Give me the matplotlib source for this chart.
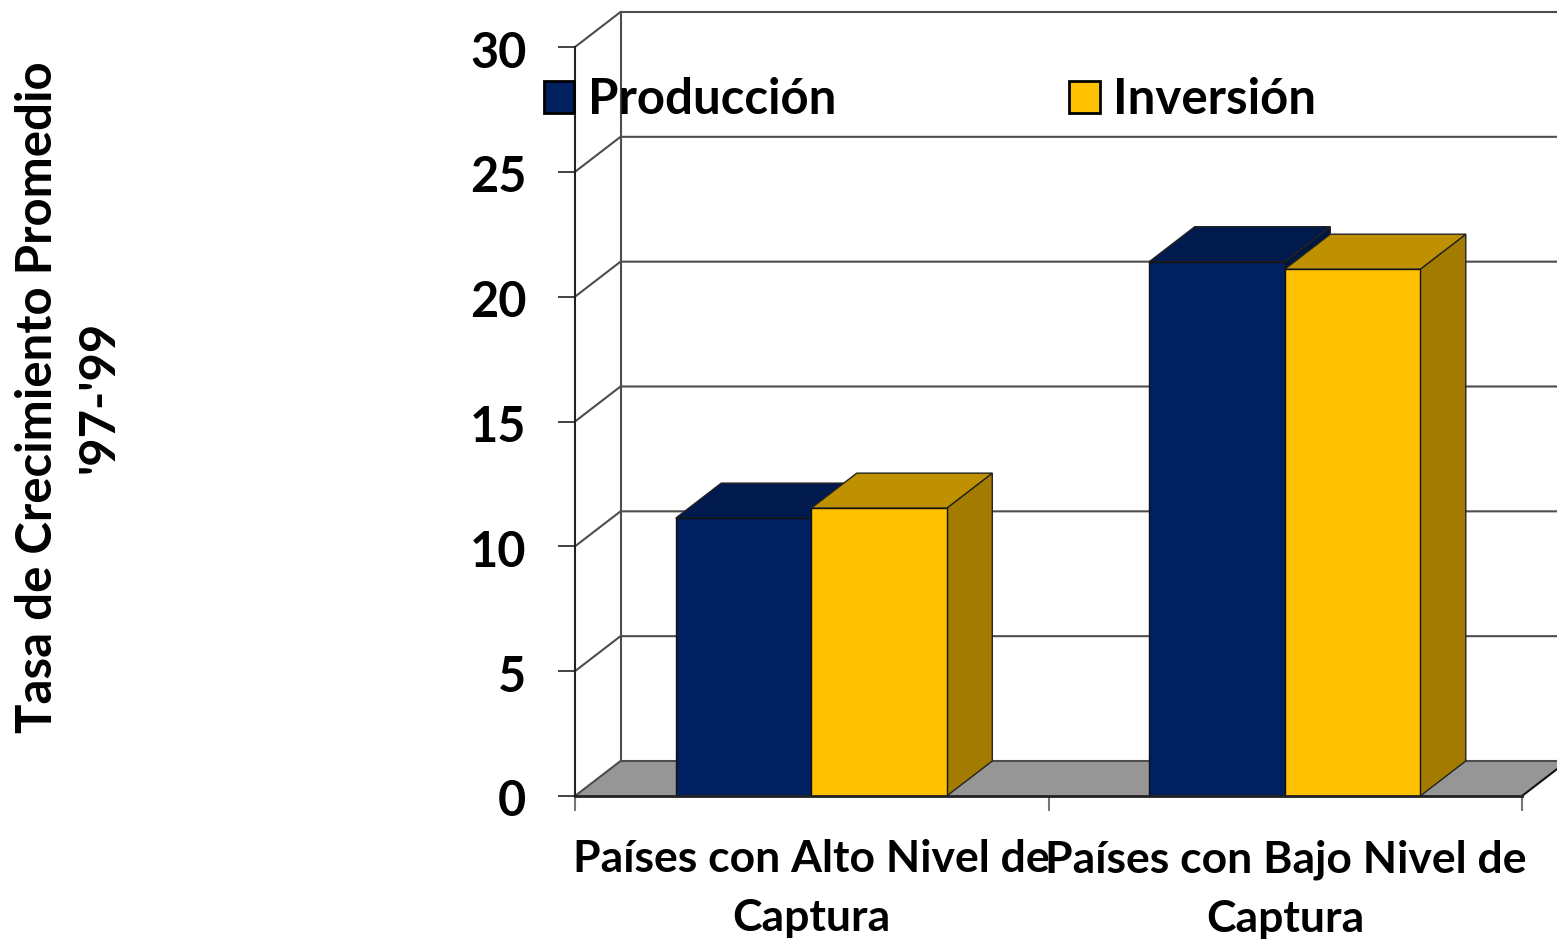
# -*- coding: utf-8 -*-
import matplotlib
matplotlib.use("Agg")
import matplotlib.pyplot as plt
from matplotlib.transforms import ScaledTranslation

plt.rcParams["font.family"] = ["Lato", "DejaVu Sans"]
plt.rcParams["font.weight"] = "bold"

categories = ["Países con Alto Nivel de\nCaptura", "Países con Bajo Nivel de\nCaptura"]
produccion = [11.13, 21.4]
inversion = [11.53, 21.1]
y_ticks = [0, 5, 10, 15, 20, 25, 30]
y_title = "Tasa de Crecimiento Promedio\n'97-'99"

C_PROD = ("#002060", "#001a4d", "#00163f")  # frente, tapa, lado
C_INV = ("#ffc000", "#bf9000", "#a37b00")
C_LINE = "#4d4d4d"
C_FLOOR = "#969696"

W, H = 1557, 939
fig = plt.figure(figsize=(W / 100, H / 100), dpi=100, facecolor="white")
ax = fig.add_axes([575 / W, (H - 796) / H, 947 / W, 749 / H], facecolor="none")
ax.set_xlim(0, 2)
ax.set_ylim(0, 30)

# profundidad 3D en unidades de datos
DX = 45.5 / (947 / 2)
DY = 35 / (749 / 30)
BAR_W = 135.5 / (947 / 2)

# piso y paredes
ax.fill([0, 2, 2 + DX, DX], [0, 0, DY, DY], color=C_FLOOR, lw=0, zorder=1, clip_on=False)
ax.plot([0, DX, 2 + DX], [0, DY, DY], color=C_LINE, lw=1.5, zorder=1.5, clip_on=False)
ax.plot([2, 2 + DX], [0, DY], color="#111111", lw=1.5, zorder=1.5, clip_on=False)
ax.plot([DX, DX], [DY, 30 + DY], color=C_LINE, lw=1.5, zorder=2, clip_on=False)
for v in y_ticks[1:]:
    ax.plot([0, DX, 2 + DX], [v, v + DY, v + DY], color=C_LINE, lw=1.5, zorder=2, clip_on=False)


def bar3d(x0, v, cols, label, z):
    x1 = x0 + BAR_W
    ax.fill([x1, x1 + DX, x1 + DX, x1], [0, DY, v + DY, v], facecolor=cols[2],
            edgecolor="#222222", lw=1, zorder=z, clip_on=False)
    ax.fill([x0, x0 + DX, x1 + DX, x1], [v, v + DY, v + DY, v], facecolor=cols[1],
            edgecolor="#222222", lw=1, zorder=z, clip_on=False)
    return ax.bar(x0, v, BAR_W, align="edge", color=cols[0], edgecolor="#111111",
                  lw=1, zorder=z + 0.1, label=label, clip_on=False)


handles = []
for i in range(len(categories)):
    c = i + 0.499
    b1 = bar3d(c - BAR_W, produccion[i], C_PROD, "Producción", 3 + i * 2)
    b2 = bar3d(c, inversion[i], C_INV, "Inversión", 4 + i * 2)
    if i == 0:
        handles = [b1, b2]

for s in ("top", "right"):
    ax.spines[s].set_visible(False)
ax.spines["left"].set_color("#222222")
ax.spines["left"].set_linewidth(1.5)
ax.spines["bottom"].set_color("#222222")
ax.spines["bottom"].set_linewidth(2)
ax.spines["bottom"].set_zorder(10)

ax.set_yticks(y_ticks)
ax.set_yticklabels([str(v) for v in y_ticks], fontsize=35, fontweight="bold")
ax.tick_params(axis="y", length=12, width=1.2, color="#222222", pad=23)
# los numeros quedan 2 px mas abajo que la marca
shift = ScaledTranslation(0, -2 / 100, fig.dpi_scale_trans)
for lab in ax.get_yticklabels():
    lab.set_transform(lab.get_transform() + shift)
ax.set_xticks([0, 1, 2])
ax.set_xticklabels([])
ax.tick_params(axis="x", which="major", length=11, width=1.5, color="#777777")
ax.set_xticks([0.5, 1.5], minor=True)
ax.set_xticklabels(categories, minor=True, fontsize=32, fontweight="bold", linespacing=1.58)
ax.tick_params(axis="x", which="minor", length=0, pad=31)

leg = ax.legend(handles=handles, ncol=2, frameon=False, fontsize=35.4,
                handlelength=0.62, handleheight=0.62, handletextpad=0.27,
                columnspacing=4.74, borderpad=0, borderaxespad=0,
                loc="center left", bbox_to_anchor=((544 - 575) / 947, (796 - 100) / 749))
leg.set_zorder(20)
for p in leg.get_patches():
    p.set_edgecolor("black")
    p.set_linewidth(2)

fig.text(68 / W, 1 - 397 / H, y_title, rotation=90, ha="center", va="center",
         multialignment="center", fontsize=35.4, fontweight="bold", linespacing=1.45)

fig.savefig("out.png", dpi=100)
